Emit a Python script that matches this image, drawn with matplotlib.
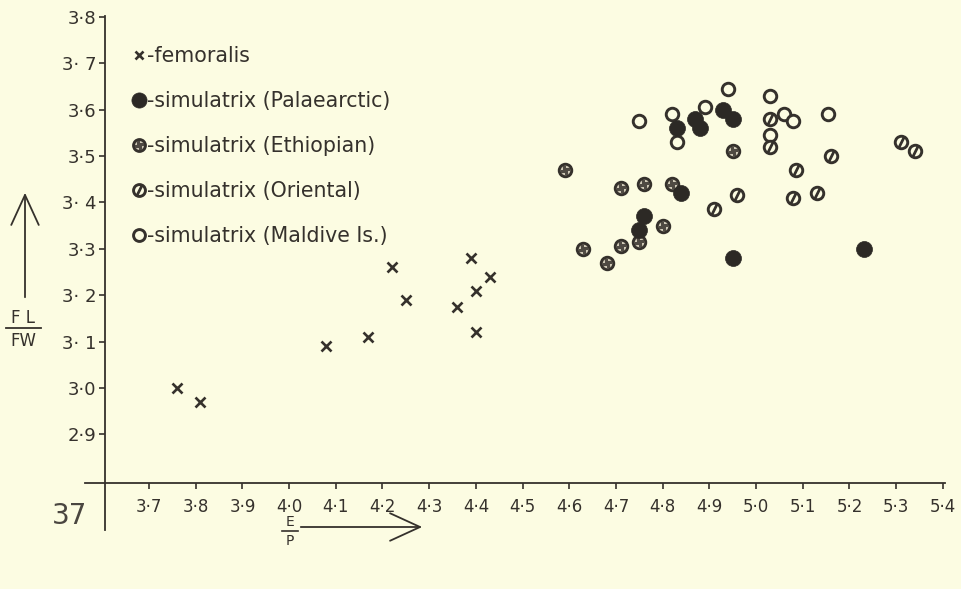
import matplotlib
matplotlib.use("Agg")
import matplotlib.pyplot as plt
from matplotlib.lines import Line2D
from matplotlib.markers import MarkerStyle
from matplotlib.transforms import Affine2D
from matplotlib.patches import FancyArrowPatch

# ---------------- data ----------------
fem_x = [3.76, 3.81, 4.08, 4.17, 4.22, 4.25, 4.36, 4.39, 4.40, 4.40, 4.43]
fem_y = [3.00, 2.97, 3.09, 3.11, 3.26, 3.19, 3.175, 3.28, 3.21, 3.12, 3.24]

pal_x = [4.75, 4.76, 4.83, 4.84, 4.87, 4.88, 4.93, 4.95, 4.95, 5.23]
pal_y = [3.34, 3.37, 3.56, 3.42, 3.58, 3.56, 3.60, 3.58, 3.28, 3.30]

eth_x = [4.59, 4.63, 4.68, 4.71, 4.71, 4.75, 4.76, 4.80, 4.82, 4.95]
eth_y = [3.47, 3.30, 3.27, 3.305, 3.43, 3.315, 3.44, 3.35, 3.44, 3.51]

ori_x = [4.91, 4.96, 5.03, 5.03, 5.08, 5.085, 5.13, 5.16, 5.31, 5.34]
ori_y = [3.385, 3.415, 3.58, 3.52, 3.41, 3.47, 3.42, 3.50, 3.53, 3.51]

mal_x = [4.75, 4.82, 4.83, 4.89, 4.94, 5.03, 5.03, 5.06, 5.08, 5.155]
mal_y = [3.575, 3.59, 3.53, 3.605, 3.645, 3.63, 3.545, 3.59, 3.575, 3.59]

x_ticks = [3.7, 3.8, 3.9, 4.0, 4.1, 4.2, 4.3, 4.4, 4.5, 4.6, 4.7, 4.8, 4.9, 5.0, 5.1, 5.2, 5.3, 5.4]
x_ticklabels = ["3\u00b77", "3\u00b78", "3\u00b79", "4\u00b70", "4\u00b71", "4\u00b72", "4\u00b73", "4\u00b74", "4\u00b75",
                "4\u00b76", "4\u00b77", "4\u00b78", "4\u00b79", "5\u00b70", "5\u00b71", "5\u00b72", "5\u00b73", "5\u00b74"]
y_ticks = [2.9, 3.0, 3.1, 3.2, 3.3, 3.4, 3.5, 3.6, 3.7, 3.8]
y_ticklabels = ["2\u00b79", "3\u00b70", "3\u00b7 1", "3\u00b7 2", "3\u00b73", "3\u00b7 4", "3\u00b75", "3\u00b76", "3\u00b7 7", "3\u00b78"]

labels = ["-femoralis", "-simulatrix (Palaearctic)", "-simulatrix (Ethiopian)",
          "-simulatrix (Oriental)", "-simulatrix (Maldive Is.)"]

# ---------------- style ----------------
BG = "#fcfce2"
INK = "#35312c"
W, H = 962, 589
plt.rcParams["font.family"] = ["DejaVu Sans"]

fig = plt.figure(figsize=(W / 100, H / 100), dpi=100, facecolor=BG)

def fx(px):
    return px / W

def fy(py):
    return 1 - py / H

ax_left, ax_right, ax_top, ax_bottom = 105, 945, 16, 483
ax = fig.add_axes([fx(ax_left), fy(ax_bottom), fx(ax_right - ax_left), (ax_bottom - ax_top) / H])
ax.set_facecolor(BG)
ax.set_xlim(3.6058, 5.4045)
ax.set_ylim(2.7953, 3.8017)

for s in ["top", "right"]:
    ax.spines[s].set_visible(False)
for s in ["left", "bottom"]:
    ax.spines[s].set_color(INK)
    ax.spines[s].set_linewidth(1.3)

ax.set_xticks(x_ticks)
ax.set_xticklabels(x_ticklabels)
ax.set_yticks(y_ticks)
ax.set_yticklabels(y_ticklabels)
ax.tick_params(axis="x", direction="out", length=4, width=1.2, color=INK, pad=7,
               labelsize=12, labelcolor=INK)
ax.tick_params(axis="y", direction="out", length=4, width=1.2, color=INK, pad=2,
               labelsize=13, labelcolor=INK)

# axis extensions beyond the corner
ax.add_line(Line2D([-20 / (ax_right - ax_left), 0], [0, 0], transform=ax.transAxes,
                   color=INK, lw=1.3, clip_on=False))
ax.add_line(Line2D([0, 0], [0, -47 / (ax_bottom - ax_top)], transform=ax.transAxes,
                   color=INK, lw=1.3, clip_on=False))

# ---------------- markers ----------------
ring = dict(marker="o", ms=9, mew=2.1, mec=INK, ls="none")
slash = MarkerStyle("|", transform=Affine2D().rotate_deg(-25))
star = (4, 2, 20)

h_mal, = ax.plot(mal_x, mal_y, mfc=BG, zorder=3, **ring)
h_ori, = ax.plot(ori_x, ori_y, mfc=BG, zorder=3, **ring)
h_ori2, = ax.plot(ori_x, ori_y, marker=slash, ms=9.5, mew=2.0, mec=INK, ls="none", zorder=4)
h_eth, = ax.plot(eth_x, eth_y, mfc="#d2ccb9", zorder=5, **ring)
h_eth2, = ax.plot(eth_x, eth_y, marker=star, ms=7, mew=2.0, mec="#4f4a43", ls="none", zorder=6)
h_pal, = ax.plot(pal_x, pal_y, marker="o", ms=11.5, mfc="#2c2925", mec="#2c2925", mew=0.5,
                 ls="none", zorder=7)
h_fem, = ax.plot(fem_x, fem_y, marker="x", ms=6.5, mew=1.9, color=INK, ls="none", zorder=7)

leg = fig.legend([h_fem, h_pal, (h_eth, h_eth2), (h_ori, h_ori2), h_mal], labels,
                 loc="upper left", bbox_to_anchor=(fx(132), fy(46)), frameon=False,
                 fontsize=14.8, labelcolor=INK, handlelength=0.65, handletextpad=0.1,
                 labelspacing=1.22, borderpad=0, borderaxespad=0, markerscale=0.95)

# ---------------- axis titles ----------------
fig.text(fx(23), fy(318), "F L", ha="center", va="center", fontsize=12, color=INK)
fig.text(fx(23), fy(341), "FW", ha="center", va="center", fontsize=12, color=INK)
fig.add_artist(Line2D([fx(6), fx(41)], [fy(328), fy(328)], color=INK, lw=1.3))
fig.add_artist(FancyArrowPatch((fx(25), fy(300)), (fx(25), fy(190)), transform=fig.transFigure,
                               arrowstyle="->,head_length=1.2,head_width=0.55",
                               mutation_scale=18, color=INK, lw=1.3))

fig.text(fx(290), fy(522), "E", ha="center", va="center", fontsize=10, color=INK)
fig.text(fx(290), fy(541), "P", ha="center", va="center", fontsize=10, color=INK)
fig.add_artist(Line2D([fx(282), fx(298)], [fy(531), fy(531)], color=INK, lw=1.2))
fig.add_artist(FancyArrowPatch((fx(298), fy(527)), (fx(425), fy(527)), transform=fig.transFigure,
                               arrowstyle="->,head_length=1.2,head_width=0.55",
                               mutation_scale=18, color=INK, lw=1.3))

fig.text(fx(70), fy(516), "37", ha="center", va="center", fontsize=20, color="#4a4640")

fig.savefig("out.png", dpi=100, facecolor=BG)
